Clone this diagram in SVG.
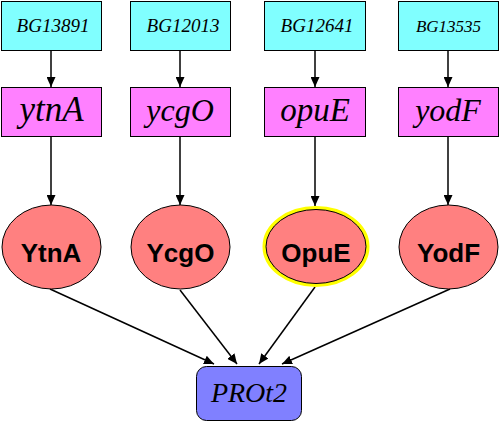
<svg xmlns="http://www.w3.org/2000/svg" width="500" height="423" viewBox="0 0 500 423">
<defs>
<style>
.gene{fill:#80ffff;stroke:#000;stroke-width:1}
.orf{fill:#ff80ff;stroke:#000;stroke-width:1}
.prot{fill:#ff8080;stroke:#000;stroke-width:1}
.cplx{fill:#8080ff;stroke:#000;stroke-width:1}
.t1{font-family:"Liberation Serif","Times New Roman",serif;font-style:italic;font-size:19px;text-anchor:middle;fill:#000}
.t2{font-family:"Liberation Serif","Times New Roman",serif;font-style:italic;font-size:33px;text-anchor:middle;fill:#000}
.t3{font-family:"Liberation Sans",Arial,sans-serif;font-weight:bold;font-size:26px;text-anchor:middle;fill:#000}
.t4{font-family:"Liberation Serif","Times New Roman",serif;font-style:italic;font-size:28px;text-anchor:middle;fill:#000}
.edge{stroke:#000;stroke-width:1.5;fill:none;marker-end:url(#ah)}
</style>
<marker id="ah" markerUnits="userSpaceOnUse" markerWidth="11" markerHeight="9" refX="10" refY="4.5" orient="auto">
<path d="M0,0 L10,4.5 L0,9 z" fill="#000"/>
</marker>
</defs>
<rect width="500" height="423" fill="#fff"/>
<g id="connectors">
<line class="edge" x1="51" y1="51" x2="51" y2="87"/>
<line class="edge" x1="180" y1="51" x2="180" y2="87"/>
<line class="edge" x1="315" y1="51" x2="315" y2="87"/>
<line class="edge" x1="448" y1="51" x2="448" y2="87"/>
<line class="edge" x1="51" y1="137" x2="51" y2="205"/>
<line class="edge" x1="180" y1="137" x2="180" y2="205"/>
<line class="edge" x1="315" y1="137" x2="315" y2="206"/>
<line class="edge" x1="448" y1="137" x2="448" y2="205"/>
<line class="edge" x1="50" y1="289" x2="214" y2="364"/>
<line class="edge" x1="180" y1="290" x2="237" y2="364"/>
<line class="edge" x1="315" y1="287" x2="259" y2="364"/>
<line class="edge" x1="450" y1="289" x2="282" y2="364"/>
</g>
<g id="BG13891"><rect class="gene" x="1.5" y="1.5" width="100" height="49"/><text class="t1" x="53" y="32">BG13891</text></g>
<g id="BG12013"><rect class="gene" x="130.5" y="1.5" width="100" height="49"/><text class="t1" x="183" y="32">BG12013</text></g>
<g id="BG12641"><rect class="gene" x="264.5" y="1.5" width="101" height="49"/><text class="t1" x="317" y="32">BG12641</text></g>
<g id="BG13535"><rect class="gene" x="398.5" y="1.5" width="100" height="49"/><text class="t1" x="448.5" y="32" style="font-size:17px">BG13535</text></g>
<g id="ytnA"><rect class="orf" x="1.5" y="87.5" width="100" height="49"/><text class="t2" x="51.5" y="121" style="font-size:35px">ytnA</text></g>
<g id="ycgO"><rect class="orf" x="130.5" y="87.5" width="100" height="49"/><text class="t2" x="180" y="121" style="font-size:32px">ycgO</text></g>
<g id="opuE"><rect class="orf" x="264.5" y="87.5" width="101" height="49"/><text class="t2" x="315" y="121">opuE</text></g>
<g id="yodF"><rect class="orf" x="398.5" y="87.5" width="100" height="49"/><text class="t2" x="448" y="121" style="font-size:32px">yodF</text></g>
<g id="YtnA"><ellipse class="prot" cx="51.5" cy="247" rx="49.5" ry="42"/><text class="t3" x="51" y="262">YtnA</text></g>
<g id="YcgO"><ellipse class="prot" cx="180.5" cy="247" rx="49.5" ry="42"/><text class="t3" x="180.5" y="262">YcgO</text></g>
<g id="OpuE"><ellipse cx="316" cy="246.5" rx="51.5" ry="38.5" fill="none" stroke="#ffff00" stroke-width="4"/><ellipse class="prot" cx="316" cy="246.5" rx="50" ry="37"/><text class="t3" x="316" y="262">OpuE</text></g>
<g id="YodF"><ellipse class="prot" cx="448.5" cy="247" rx="49.5" ry="42"/><text class="t3" x="448.5" y="262">YodF</text></g>
<g id="PROt2"><rect class="cplx" x="196.5" y="366.5" width="105" height="54" rx="10" ry="10"/><text class="t4" x="249" y="402">PROt2</text></g>
</svg>
